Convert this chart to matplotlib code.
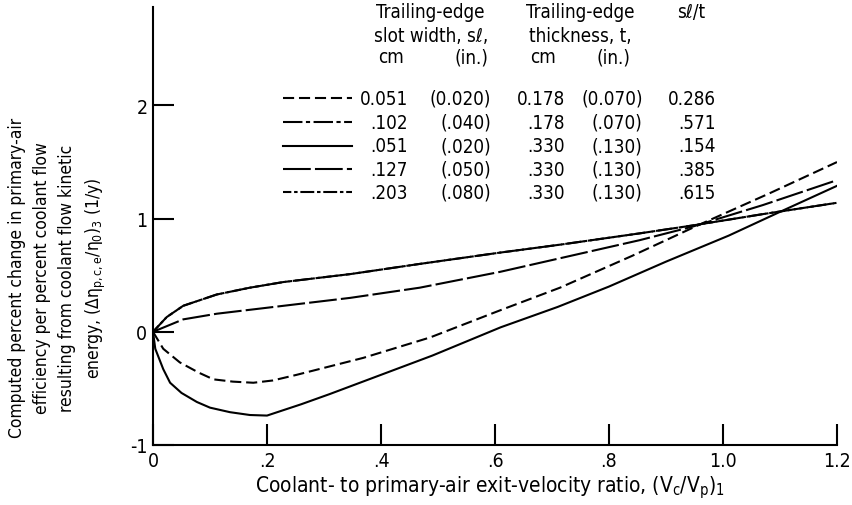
import matplotlib
matplotlib.use('Agg')
import matplotlib.pyplot as plt
from matplotlib import font_manager

# Values
vel_ratio_286 = [0, 0.018, 0.047, 0.08, 0.106, 0.14, 0.176, 0.21, 0.252, 0.369, 0.486, 0.609, 0.714, 0.84, 0.96, 1.08, 1.2]
eff_286 = [0, -0.15, -0.27, -0.36, -0.42, -0.44, -0.45, -0.43, -0.38, -0.23, -0.05, 0.19, 0.39, 0.67, 0.95, 1.22, 1.50]

vel_ratio_571 = [0, 0.024, 0.053, 0.112, 0.17, 0.229, 0.346, 0.468, 0.609, 0.714, 0.854, 0.947, 1.07, 1.2]
eff_571 = [0, 0.13, 0.23, 0.33, 0.39, 0.44, 0.51, 0.60, 0.70, 0.77, 0.87, 0.94, 1.04, 1.14]

vel_ratio_154 = [0, 0.004, 0.018, 0.03, 0.05, 0.077, 0.1, 0.135, 0.17, 0.2, 0.26, 0.31, 0.4, 0.49, 0.61, 0.71, 0.8, 0.9, 1.01, 1.1, 1.2]
eff_154 = [0, -0.15, -0.33, -0.45, -0.54, -0.62, -0.67, -0.71, -0.735, -0.74, -0.64, -0.55, -0.38, -0.21, 0.04, 0.22, 0.40, 0.62, 0.85, 1.06, 1.29]

vel_ratio_385 = [0, 0.053, 0.112, 0.229, 0.346, 0.468, 0.609, 0.714, 0.854, 0.947, 1.07, 1.2]
eff_385 = [0, 0.11, 0.16, 0.23, 0.30, 0.39, 0.53, 0.65, 0.81, 0.93, 1.12, 1.34]

vel_ratio_615 = [0, 0.024, 0.053, 0.112, 0.17, 0.229, 0.346, 0.468, 0.609, 0.714, 0.854, 0.947, 1.07, 1.2]
eff_615 = [0, 0.13, 0.23, 0.33, 0.39, 0.44, 0.51, 0.60, 0.70, 0.77, 0.87, 0.94, 1.04, 1.14]

slot_cm = ["0.051", ".102", ".051", ".127", ".203"]
slot_in = ["(0.020)", "(.040)", "(.020)", "(.050)", "(.080)"]
thick_cm = ["0.178", ".178", ".330", ".330", ".330"]
thick_in = ["(0.070)", "(.070)", "(.130)", "(.130)", "(.130)"]
sl_t = ["0.286", ".571", ".154", ".385", ".615"]

x_ticks = [0, 0.2, 0.4, 0.6, 0.8, 1.0, 1.2]
x_tick_labels = ["0", ".2", ".4", ".6", ".8", "1.0", "1.2"]
y_ticks = [-1, 0, 1, 2]
y_tick_labels = ["-1", "0", "1", "2"]

# fonts: prefer a narrow face, like the report lettering
names = {f.name for f in font_manager.fontManager.ttflist}
base = 'Liberation Sans Narrow' if 'Liberation Sans Narrow' in names else 'DejaVu Sans'
plt.rcParams['font.family'] = [base, 'DejaVu Sans']
plt.rcParams['font.stretch'] = 'condensed'
plt.rcParams['mathtext.fontset'] = 'custom'
plt.rcParams['mathtext.rm'] = base
plt.rcParams['mathtext.it'] = base
plt.rcParams['lines.scale_dashes'] = False

fig = plt.figure(figsize=(8.53, 5.06), dpi=100)
ax = fig.add_axes([153 / 853, 60 / 506, 684 / 853, 438 / 506])

series = [
    (vel_ratio_286, eff_286, (0, (8, 3.5))),
    (vel_ratio_571, eff_571, (0, (14, 2.5, 3, 2.5))),
    (vel_ratio_154, eff_154, '-'),
    (vel_ratio_385, eff_385, (0, (20, 3))),
    (vel_ratio_615, eff_615, (4, (10, 2, 2.5, 2))),
]
for xs, ys, ls in series:
    ax.plot(xs, ys, color='black', lw=1.5, linestyle=ls)

ax.set_xlim(0, 1.2)
ax.set_ylim(-1, 2.87)
for side in ['top', 'right']:
    ax.spines[side].set_visible(False)
for side in ['left', 'bottom']:
    ax.spines[side].set_linewidth(1.5)

ax.set_xticks(x_ticks)
ax.set_xticklabels(x_tick_labels, fontsize=14)
ax.set_yticks(y_ticks)
ax.set_yticklabels(y_tick_labels, fontsize=14)
ax.tick_params(direction='in', length=15, width=1.5, pad=4)

# legend table drawn as text plus line samples
col_right = [0.373, 0.494, 0.602, 0.716, 0.823]
row_y = [0.792, 0.737, 0.683, 0.630, 0.577]
columns = [slot_cm, slot_in, thick_cm, thick_in, sl_t]
for i, (_, _, ls) in enumerate(series):
    ax.plot([0.190, 0.291], [row_y[i], row_y[i]], transform=ax.transAxes,
            color='black', lw=1.5, linestyle=ls)
    for col, xr in zip(columns, col_right):
        ax.text(xr, row_y[i], col[i], transform=ax.transAxes, ha='right',
                va='center', fontsize=13.5)

hdr = dict(transform=ax.transAxes, ha='center', va='center', fontsize=13.5)
ax.text(0.406, 0.989, "Trailing-edge", **hdr)
ax.text(0.406, 0.936, "slot width, s\u2113,", **hdr)
ax.text(0.348, 0.886, "cm", **hdr)
ax.text(0.465, 0.886, "(in.)", **hdr)
ax.text(0.624, 0.989, "Trailing-edge", **hdr)
ax.text(0.624, 0.936, "thickness, t,", **hdr)
ax.text(0.570, 0.886, "cm", **hdr)
ax.text(0.673, 0.886, "(in.)", **hdr)
ax.text(0.787, 0.989, "s\u2113/t", **hdr)

fig.text(490 / 853, 1 - 488 / 506,
         "Coolant- to primary-air exit-velocity ratio, $(V_c/V_p)_1$",
         ha='center', va='center', fontsize=15)
fig.text(58 / 853, 1 - 278 / 506,
         "Computed percent change in primary-air\n"
         "efficiency per percent coolant flow\n"
         "resulting from coolant flow kinetic\n"
         "energy, $(\\Delta\\eta_{p,c,e}/\\eta_0)_3$ (1/y)",
         ha='center', va='center', rotation=90, fontsize=12.5,
         multialignment='center', linespacing=1.5)

plt.savefig('out.png', dpi=100)
